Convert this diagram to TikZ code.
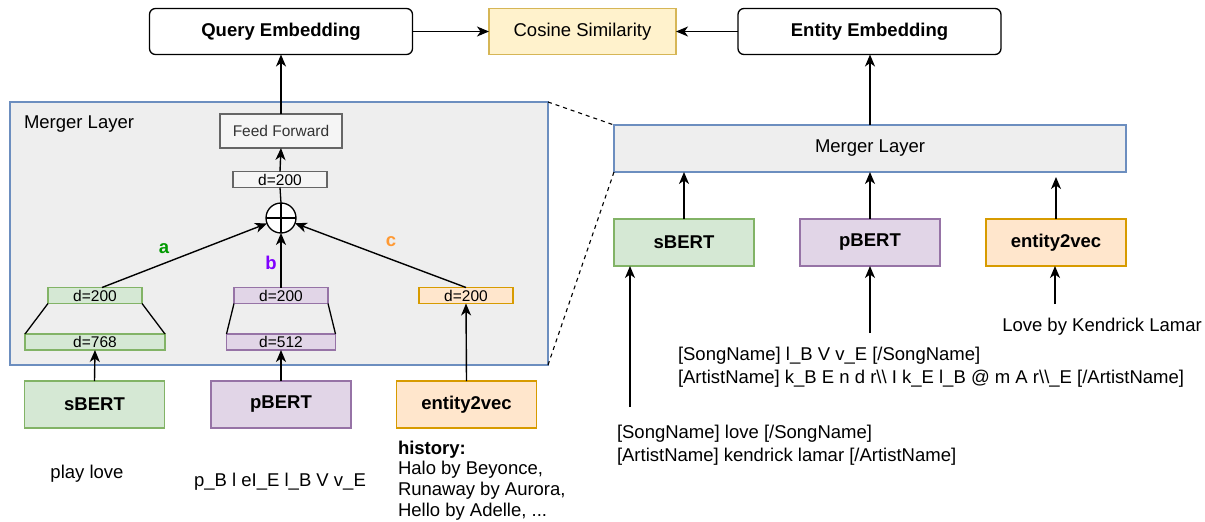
\documentclass[tikz,border=0pt]{standalone}
\usepackage{fontspec}
\setmainfont{Liberation Sans}
\usetikzlibrary{arrows.meta,calc}

\definecolor{greenF}{HTML}{D5E8D4}
\definecolor{greenD}{HTML}{82B366}
\definecolor{purpF}{HTML}{E1D5E7}
\definecolor{purpD}{HTML}{9673A6}
\definecolor{orgF}{HTML}{FFE6CC}
\definecolor{orgD}{HTML}{D79B00}
\definecolor{yelF}{HTML}{FFF2CC}
\definecolor{yelD}{HTML}{D6B656}
\definecolor{layF}{HTML}{EEEEEE}
\definecolor{layD}{HTML}{6C8EBF}
\definecolor{ffF}{HTML}{F5F5F5}
\definecolor{ffD}{HTML}{666666}
\definecolor{ffT}{HTML}{333333}
\definecolor{labA}{HTML}{009900}
\definecolor{labB}{HTML}{7F00FF}
\definecolor{labC}{HTML}{FF9933}

\begin{document}
\begin{tikzpicture}[x=1pt,y=-1pt,
  every node/.style={inner sep=0pt, outer sep=0pt},
  txt/.style={font=\fontsize{18.5}{23}\selectfont},
  box/.style={draw, rectangle, line width=1.3pt},
  emb/.style={box, rounded corners=6pt, fill=white, minimum width=263pt,
    minimum height=46pt, font=\bfseries\fontsize{18.5}{22}\selectfont},
  enc/.style={box, minimum width=140pt, minimum height=47pt,
    font=\bfseries\fontsize{18.5}{22}\selectfont},
  dim/.style={box, minimum height=16pt, font=\fontsize{15.5}{16}\selectfont},
  layer/.style={box, draw=layD, fill=layF},
  sbertc/.style={fill=greenF, draw=greenD},
  pbertc/.style={fill=purpF, draw=purpD},
  e2vc/.style={fill=orgF, draw=orgD},
  arr/.style={-{Stealth[length=12pt,width=10pt,inset=3.5pt]}, line width=1.4pt},
  conn/.style={line width=1.3pt},
  lab/.style={font=\bfseries\fontsize{18.5}{22}\selectfont}
]
\useasboundingbox (0,0) rectangle (1205,522);

% ---- top row ----
\node[emb] (qe) at (281,31.5) {Query Embedding};
\node[box, fill=yelF, draw=yelD, minimum width=187pt, minimum height=46pt,
  txt] (cs) at (582.5,31.5) {Cosine Similarity};
\node[emb] (ee) at (869.5,31.5) {Entity Embedding};
\draw[arr] (qe.east) -- (cs.west);
\draw[arr] (ee.west) -- (cs.east);

% ---- detailed merger layer (left) ----
\node[layer, minimum width=538pt, minimum height=263pt] (mlay) at (279,233.5) {};
\node[txt, anchor=west] (mlayT) at (24,124) {Merger Layer};

\node[box, fill=ffF, draw=ffD, text=ffT, minimum width=122pt, minimum height=34pt,
  font=\fontsize{15.5}{18}\selectfont] (ff) at (281,131) {Feed Forward};
\node[dim, fill=ffF, draw=ffD, minimum width=94pt] (gd) at (280,179.5) {d=200};
\node[draw, circle, fill=white, line width=1.3pt, minimum size=30pt] (sum) at (281,218) {};
\draw[line width=1.3pt] (sum.north) -- (sum.south) (sum.west) -- (sum.east);

\node[dim, sbertc, minimum width=94pt]  (g200) at (95,295.5) {d=200};
\node[dim, sbertc, minimum width=140pt] (g768) at (95,342) {d=768};
\node[dim, pbertc, minimum width=94pt]  (p200) at (281,295.5) {d=200};
\node[dim, pbertc, minimum width=109pt] (p512) at (281,342) {d=512};
\node[dim, e2vc, minimum width=94pt]    (o200) at (466,295.5) {d=200};

% projection trapezoids
\draw[conn] (g200.south west) -- (g768.north west);
\draw[conn] (g200.south east) -- (g768.north east);
\draw[conn] (p200.south west) -- (p512.north west);
\draw[conn] (p200.south east) -- (p512.north east);

% weighted sum
\draw[arr] ($(g200.north)+(7,0)$) -- (sum);
\draw[arr] (p200.north) -- (sum.south);
\draw[arr] (o200.north) -- (sum);
\draw[conn] (sum.north) -- (gd.south);
\draw[arr] (gd.north) -- (ff.south);
\draw[arr] (ff.north) -- (qe.south);

\node[lab, text=labA] (la) at (164,249) {a};
\node[lab, text=labB] (lb) at (271,263) {b};
\node[lab, text=labC] (lc) at (391,242) {c};

% ---- query-side encoders ----
\node[enc, sbertc] (sb)  at (94.5,404.5) {sBERT};
\node[enc, pbertc] (pb)  at (281,404.5)  {pBERT};
\node[enc, e2vc]   (e2v) at (466.5,404.5) {entity2vec};
\draw[arr] (sb.north) -- (g768.south);
\draw[arr] (pb.north) -- (p512.south);
\draw[arr] (e2v.north) -- (o200.south);

\node[txt] (qtext) at (87,474) {play love};
\node[txt] (qphon) at (280,482) {p\_B l eI\_E l\_B V v\_E};
\node[txt, anchor=base west, font=\bfseries\fontsize{18.5}{22}\selectfont] (h0) at (398,454) {history:};
\node[txt, anchor=base west] (h1) at (398,474.7) {Halo by Beyonce,};
\node[txt, anchor=base west] (h2) at (398,495.4) {Runaway by Aurora,};
\node[txt, anchor=base west] (h3) at (398,516) {Hello by Adelle, ...};

% ---- entity side (right) ----
\node[layer, minimum width=512pt, minimum height=47pt, txt] (mR) at (870,148.5) {Merger Layer};
\node[enc, sbertc] (sbR)  at (684,242.5)  {sBERT};
\node[enc, pbertc] (pbR)  at (870,242.5)  {pBERT};
\node[enc, e2vc]   (e2vR) at (1056,242.5) {entity2vec};

\draw[arr] (sbR.north) -- (sbR.north |- mR.south);
\draw[arr] (pbR.north) -- (pbR.north |- mR.south);
\draw[arr, shorten >=5pt] (e2vR.north) -- (e2vR.north |- mR.south);
\draw[arr] (mR.north) -- (mR.north |- ee.south);

\coordinate (sIn) at (630,407);
\coordinate (pIn) at (870,333);
\coordinate (eIn) at (1055,304);
\draw[arr] (sIn) -- (sIn |- sbR.south);
\draw[arr] (pIn) -- (pIn |- pbR.south);
\draw[arr] (eIn) -- (eIn |- e2vR.south);

\node[txt] (eName) at (1102,327) {Love by Kendrick Lamar};
\node[txt, anchor=base west] (phR1) at (678,360) {[SongName] l\_B V v\_E [/SongName]};
\node[txt, anchor=base west] (phR2) at (678,383) {[ArtistName] k\_B E n d r\textbackslash\textbackslash{} I k\_E l\_B @ m A r\textbackslash\textbackslash\_E [/ArtistName]};
\node[txt, anchor=base west] (tkR1) at (617,438) {[SongName] love [/SongName]};
\node[txt, anchor=base west] (tkR2) at (617,461) {[ArtistName] kendrick lamar [/ArtistName]};

% zoom-in guides
\draw[line width=1.1pt, dash pattern=on 4pt off 4pt] (mlay.north east) -- (mR.north west);
\draw[line width=1.1pt, dash pattern=on 4pt off 4pt] (mlay.south east) -- (mR.south west);
\end{tikzpicture}
\end{document}
